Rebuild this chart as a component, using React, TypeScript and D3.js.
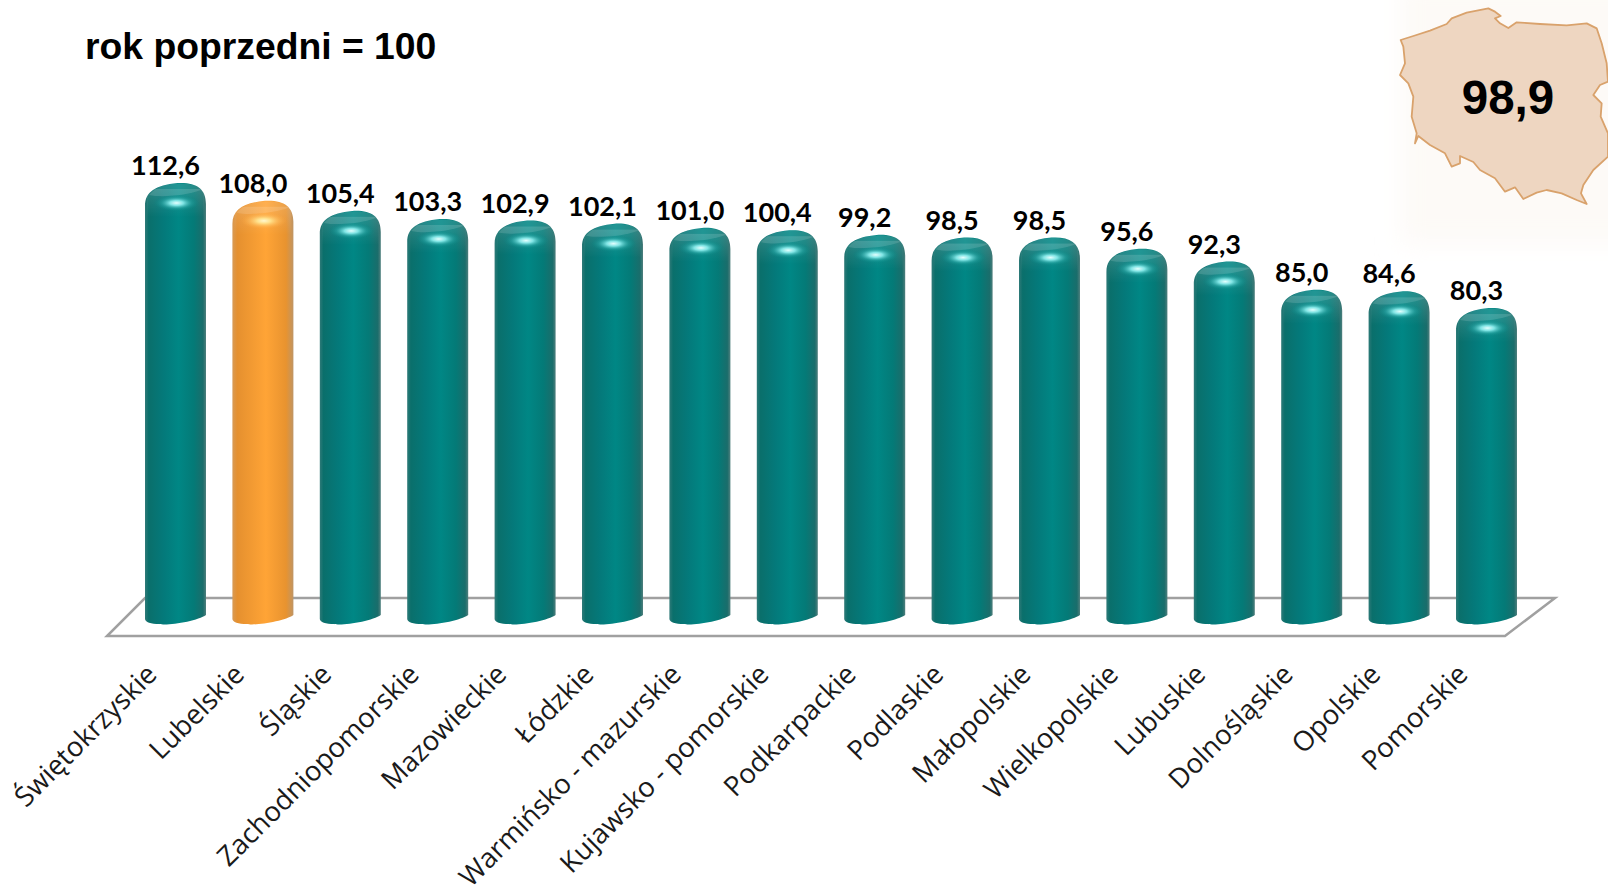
import React from "react";
import * as d3 from "d3";

const categories = ["Świętokrzyskie","Lubelskie","Śląskie","Zachodniopomorskie","Mazowieckie","Łódzkie","Warmińsko - mazurskie","Kujawsko - pomorskie","Podkarpackie","Podlaskie","Małopolskie","Wielkopolskie","Lubuskie","Dolnośląskie","Opolskie","Pomorskie"];
const values = [112.6,108.0,105.4,103.3,102.9,102.1,101.0,100.4,99.2,98.5,98.5,95.6,92.3,85.0,84.6,80.3];
const highlighted = "Lubelskie";
const title = "rok poprzedni = 100";
const nationalValue = "98,9";
const mapOutline: [number, number][] = [[62,120],[100,108],[150,92],[200,72],[215,55],[260,38],[325,25],[345,35],[362,48],[345,55],[360,70],[385,84],[410,67],[480,72],[560,76],[620,70],[650,85],[665,130],[680,190],[684,245],[660,255],[640,285],[665,310],[662,350],[684,400],[684,470],[640,510],[610,555],[603,580],[620,612],[590,600],[545,580],[500,570],[470,578],[430,597],[405,562],[375,575],[345,535],[300,510],[280,486],[240,468],[240,490],[215,500],[195,460],[150,435],[115,408],[105,430],[110,400],[95,350],[100,290],[85,250],[60,225],[75,190],[70,140]];

const fmt = (v: number) => v.toFixed(1).replace(".", ",");
const x = d3.scalePoint<string>().domain(categories).range([175.5, 1486.5]);
const y = d3.scaleLinear().domain([0, 112.6]).range([619, 183]);
const mapX = d3.scaleLinear().domain([0, 684]).range([1380, 1608]);
const mapY = d3.scaleLinear().domain([0, 260 * 3]).range([0, 260]);
const mapLine = d3.line<[number, number]>().x(d => mapX(d[0])).y(d => mapY(d[1])).curve(d3.curveLinearClosed);
const halfWidth = 30.5;

function barPath(cx: number, top: number) {
  const l = cx - halfWidth, r = cx + halfWidth;
  const p = d3.path();
  p.moveTo(l, 619);
  p.lineTo(l, top + 23);
  p.bezierCurveTo(l, top + 9, cx - 20, top + 2, cx + 2, top);
  p.bezierCurveTo(cx + 20, top - 1, r, top + 5, r, top + 21);
  p.lineTo(r, 615);
  p.bezierCurveTo(r - 8, 621, cx - 8, 626, cx - 16, 624);
  p.bezierCurveTo(l + 6, 624, l, 622, l, 619);
  p.closePath();
  return p.toString();
}
function capPath(cx: number, top: number) {
  const l = cx - halfWidth + 4, r = cx + halfWidth - 4;
  const p = d3.path();
  p.moveTo(l, top + 12);
  p.bezierCurveTo(l + 8, top + 3, cx - 10, top + 1, cx + 2, top + 0.5);
  p.bezierCurveTo(cx + 14, top, r - 4, top + 2, r - 1, top + 7);
  p.bezierCurveTo(r - 14, top + 12, l + 14, top + 15, l, top + 12);
  p.closePath();
  return p.toString();
}

export default function App() {
  const floor = d3.line()([[107, 636], [1505, 636], [1555, 598], [145, 598]]) + "Z";
  return (
    <svg width={1608} height={886} style={{ position: "absolute", left: 0, top: 0, display: "block", background: "#fff" }}>
      <defs>
        <linearGradient id="teal" x1="0" x2="1" y1="0" y2="0">
          <stop offset="0" stopColor="#2f7a78" />
          <stop offset="0.06" stopColor="#0a6f6b" />
          <stop offset="0.3" stopColor="#04797a" />
          <stop offset="0.55" stopColor="#008785" />
          <stop offset="0.8" stopColor="#047a77" />
          <stop offset="0.95" stopColor="#1a6d6b" />
          <stop offset="1" stopColor="#4f7f7d" />
        </linearGradient>
        <linearGradient id="orange" x1="0" x2="1" y1="0" y2="0">
          <stop offset="0" stopColor="#d89a55" />
          <stop offset="0.08" stopColor="#e5902f" />
          <stop offset="0.55" stopColor="#ffa436" />
          <stop offset="0.88" stopColor="#e8932f" />
          <stop offset="1" stopColor="#bf9565" />
        </linearGradient>
        <linearGradient id="sheen" x1="0" x2="0" y1="0" y2="1">
          <stop offset="0" stopColor="#fff" stopOpacity="0.14" />
          <stop offset="1" stopColor="#fff" stopOpacity="0" />
        </linearGradient>
        <radialGradient id="glowTeal">
          <stop offset="0" stopColor="#e4ffff" />
          <stop offset="0.3" stopColor="#7fe4e4" />
          <stop offset="0.65" stopColor="#2aa8a6" stopOpacity="0.5" />
          <stop offset="1" stopColor="#00837f" stopOpacity="0" />
        </radialGradient>
        <radialGradient id="glowOrange">
          <stop offset="0" stopColor="#fff8d0" />
          <stop offset="0.3" stopColor="#ffe08a" />
          <stop offset="0.65" stopColor="#ffc060" stopOpacity="0.5" />
          <stop offset="1" stopColor="#ffa436" stopOpacity="0" />
        </radialGradient>
        <filter id="soft" x="-5%" y="-5%" width="110%" height="110%"><feGaussianBlur stdDeviation="0.7" /></filter>
        <filter id="wide" x="-20%" y="-20%" width="140%" height="140%"><feGaussianBlur stdDeviation="12" /></filter>
      </defs>

      <text x={85} y={59} fontFamily="'Liberation Sans'" fontWeight={700} fontSize={37.3} fill="#000">{title}</text>

      <path d={floor} fill="none" stroke="#a0a0a0" strokeWidth={2.5} />

      {categories.map((c, i) => {
        const cx = x(c)!;
        const top = y(values[i]);
        const hi = c === highlighted;
        return (
          <g key={c}>
            <path d={barPath(cx, top)} fill={`url(#${hi ? "orange" : "teal"})`} />
            <rect x={cx - halfWidth + 2} y={top + 6} width={halfWidth * 2 - 4} height={28} fill="url(#sheen)" />
            <path d={capPath(cx, top)} fill="#fff" opacity={0.13} />
            <ellipse cx={cx + 1} cy={top + 20} rx={23} ry={8.5} fill={`url(#${hi ? "glowOrange" : "glowTeal"})`} />
            <text x={cx - 10} y={top - 8} textAnchor="middle" fontFamily="Lato" fontWeight={700} fontSize={27} fill="#000">{fmt(values[i])}</text>
            <text transform={`translate(${cx - 17},${676}) rotate(-45)`} textAnchor="end" fontFamily="'Open Sans'" fontSize={27.5} fill="#1a1a1a">{c}</text>
          </g>
        );
      })}

      <rect x={1400} y={-20} width={240} height={265} fill="#fdfaf7" filter="url(#wide)" />
      <path d={mapLine(mapOutline)!} fill="#eed6c1" stroke="#d9a26c" strokeWidth={1.8} strokeLinejoin="round" filter="url(#soft)" />
      <text x={1508} y={114} textAnchor="middle" fontFamily="'Liberation Sans'" fontWeight={700} fontSize={47.5} fill="#000">{nationalValue}</text>
    </svg>
  );
}
